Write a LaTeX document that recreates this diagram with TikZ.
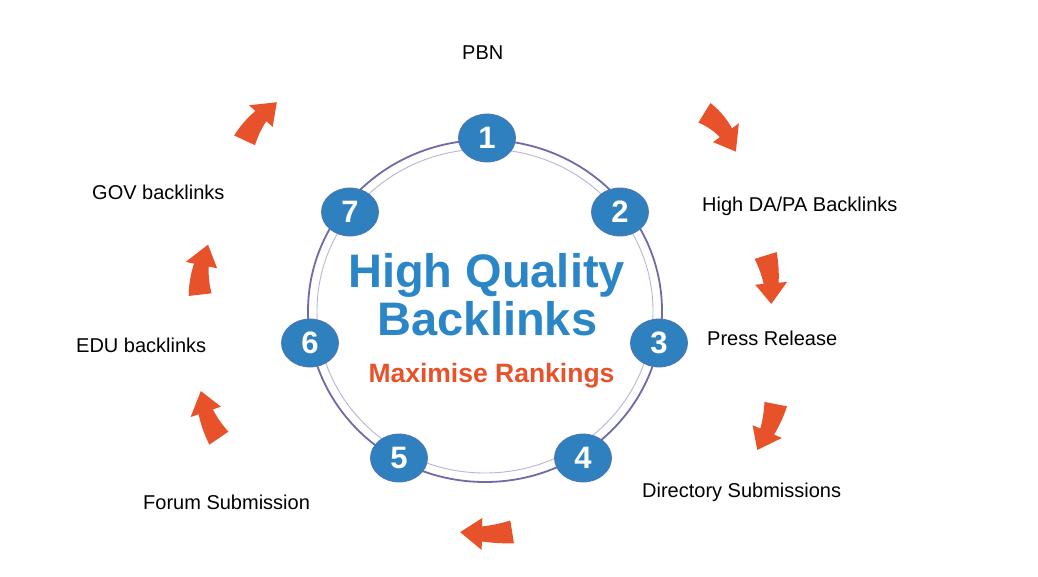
\documentclass[tikz,border=0pt]{standalone}
\usepackage{fontspec}
\setmainfont{Liberation Sans}
\usetikzlibrary{shapes.geometric}
\definecolor{badgeblue}{HTML}{2E80BF}
\definecolor{titleblue}{HTML}{2B86C7}
\definecolor{arroworange}{HTML}{E8522A}
\definecolor{ringouter}{HTML}{6E6BA8}
\definecolor{ringinner}{HTML}{B8B6D6}
% curved arrow: tail (x,y), tip (x,y), bend radius
\newcommand{\swoosh}[5]{%
  \pgfmathsetmacro\swmx{(#1+#3)/2}%
  \pgfmathsetmacro\swmy{(#2+#4)/2}%
  \pgfmathsetmacro\swux{485-\swmx}%
  \pgfmathsetmacro\swuy{312-\swmy}%
  \pgfmathsetmacro\swul{veclen(\swux,\swuy)}%
  \pgfmathsetmacro\swc{veclen(#3-#1,#4-#2)}%
  \pgfmathsetmacro\swd{10*sqrt((#5/10)*(#5/10)-(\swc/20)*(\swc/20))}%
  \pgfmathsetmacro\swox{\swmx+\swux/\swul*\swd}%
  \pgfmathsetmacro\swoy{\swmy+\swuy/\swul*\swd}%
  \pgfmathsetmacro\swa{atan2(#2-\swoy,#1-\swox)}%
  \pgfmathsetmacro\swbb{atan2(#4-\swoy,#3-\swox)}%
  \pgfmathsetmacro\swb{ifthenelse(\swbb<\swa,\swbb+360,\swbb)}%
  \pgfmathsetmacro\swah{\swb-0.42*(\swb-\swa)}%
  \begin{scope}[shift={(\swox,\swoy)}]
  \fill[arroworange]
    plot[domain=\swa:\swah,samples=14] (\x:{#5+11.5-4*(\x-\swa)/(\swah-\swa)})
    -- (\swah:{#5+16}) -- (\swb:{#5}) -- (\swah:{#5-16})
    -- plot[domain=\swah:\swa,samples=14] (\x:{#5-11.5+4*(\x-\swa)/(\swah-\swa)})
    -- cycle;
  \end{scope}}
\begin{document}
\begin{tikzpicture}[x=1pt,y=-1pt,
  badge/.style={ellipse, fill=badgeblue, draw=ringouter!60!badgeblue, line width=0.8pt,
    minimum width=57pt, minimum height=48pt, inner sep=0pt, text=white,
    font=\fontsize{31}{31}\selectfont\bfseries},
  lbl/.style={anchor=base west, inner sep=0pt, font=\fontsize{20}{24}\selectfont},
  ttl/.style={anchor=base, inner sep=0pt, text=titleblue, font=\fontsize{47}{50}\selectfont\bfseries}]
\useasboundingbox[fill=white] (0,0) rectangle (1038,576);
% rings
\draw[ringouter, line width=1.8pt] (485,311) ellipse [x radius=177, y radius=171];
\draw[ringinner, line width=0.9pt] (485,311) ellipse [x radius=168, y radius=162];
% badges
\node[badge] (b1) at (487,138) {1};
\node[badge] (b2) at (620,212) {2};
\node[badge] (b3) at (659,343) {3};
\node[badge] (b4) at (583,458) {4};
\node[badge] (b5) at (399,458) {5};
\node[badge] (b6) at (310,343) {6};
\node[badge] (b7) at (350,212) {7};
% title
\node[ttl] (t1) at (486.5,287) {High Quality};
\node[ttl] (t2) at (487.5,335) {Backlinks};
\node[anchor=base, inner sep=0pt, text=arroworange, font=\fontsize{26.5}{28}\selectfont\bfseries] (t3) at (491.5,382) {Maximise Rankings};
% labels
\node[lbl] (l1) at (462,59) {PBN};
\node[lbl] (l2) at (702,211) {High DA/PA Backlinks};
\node[lbl] (l3) at (707,345) {Press Release};
\node[lbl] (l4) at (642,497) {Directory Submissions};
\node[lbl] (l5) at (143,509) {Forum Submission};
\node[lbl] (l6) at (76,352) {EDU backlinks};
\node[lbl] (l7) at (92,199) {GOV backlinks};
% arrows
\swoosh{246}{141}{276}{101}{95}
\swoosh{700}{120}{743}{149}{75}
\swoosh{764}{256}{773}{304}{130}
\swoosh{770}{403}{762}{453}{130}
\swoosh{512}{531}{460}{533}{170}
\swoosh{225}{434}{194}{392}{110}
\swoosh{197}{295}{211}{246}{95}
\end{tikzpicture}
\end{document}
